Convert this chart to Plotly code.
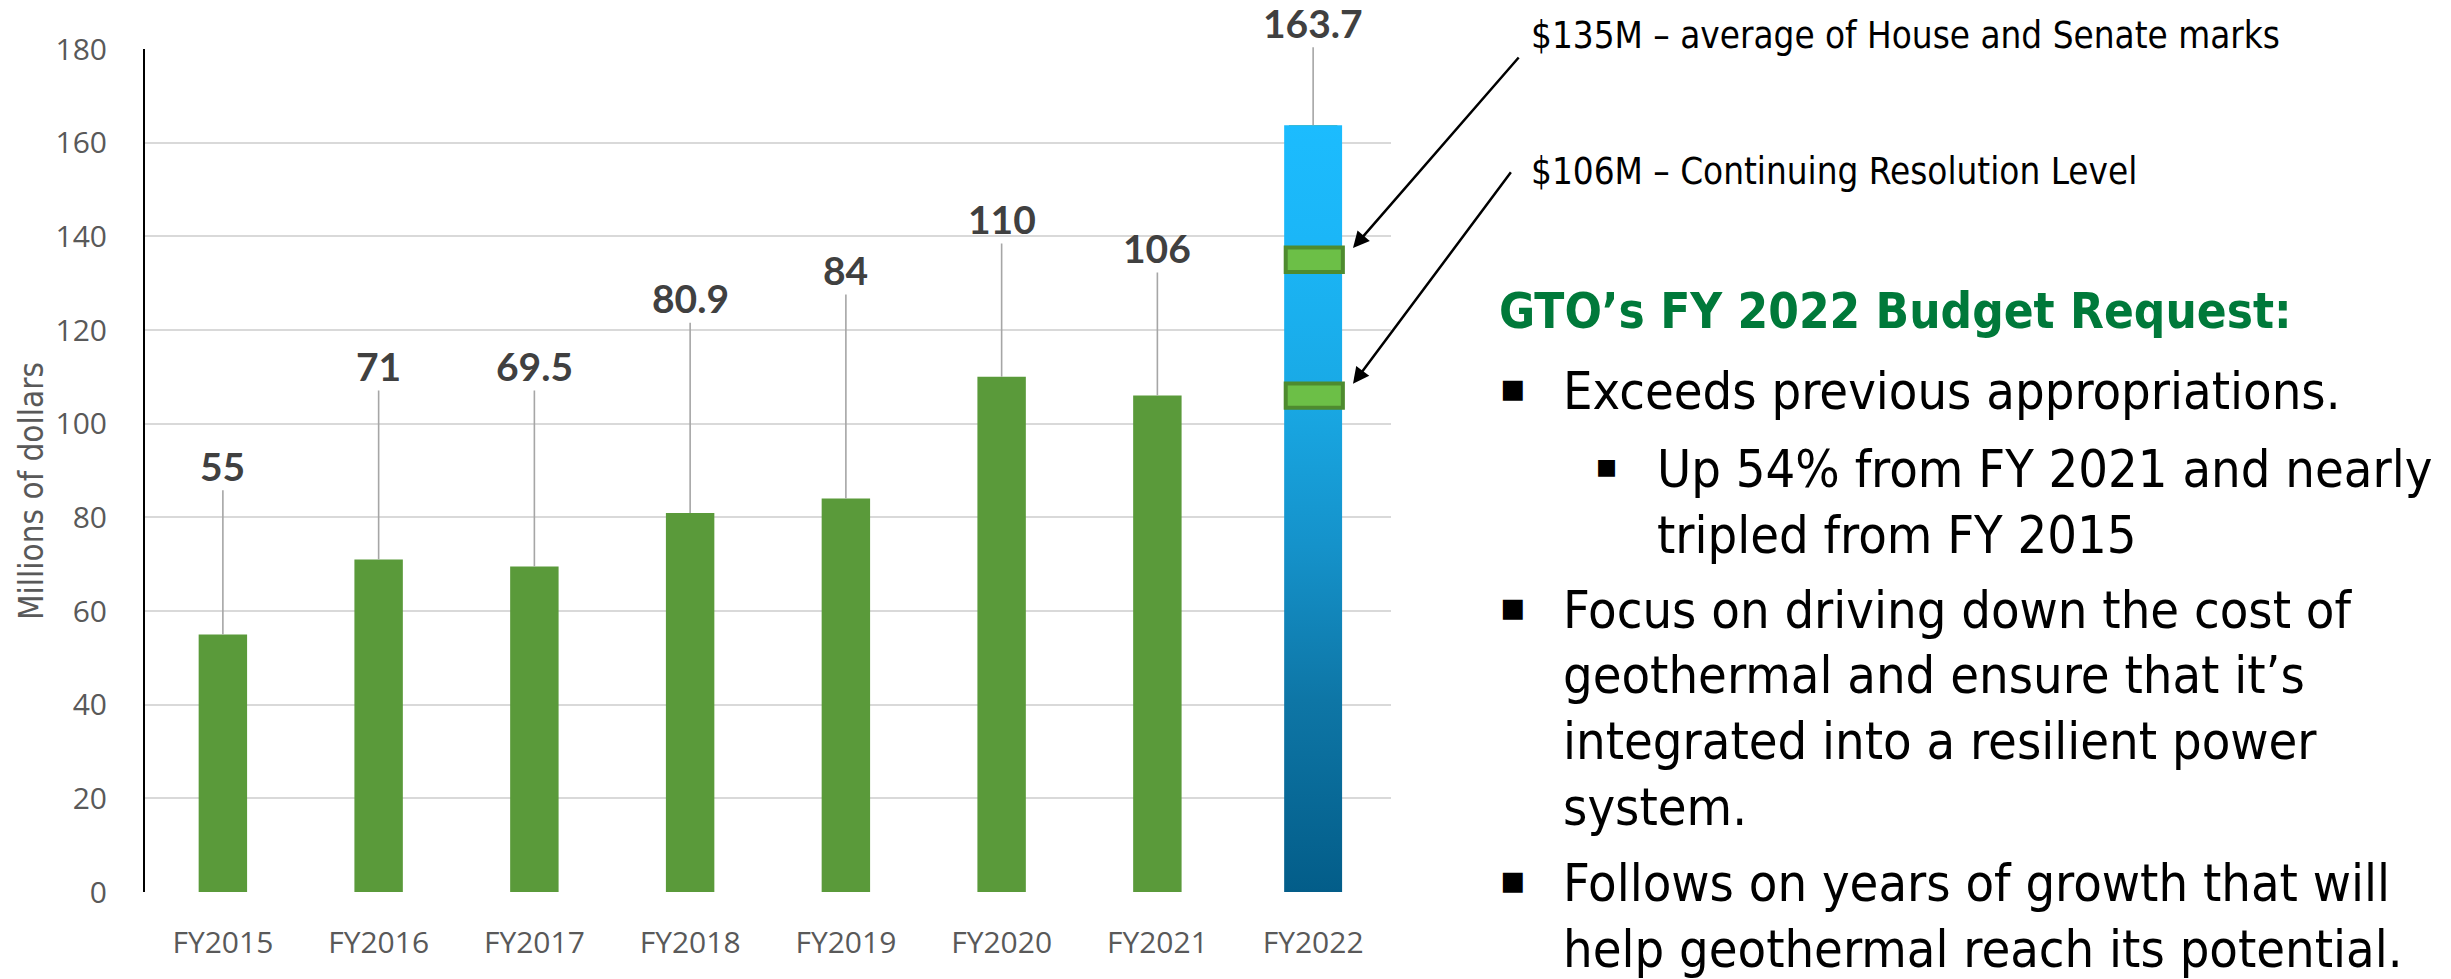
import plotly.graph_objects as go

# ---------------- data ----------------
categories = ["FY2015", "FY2016", "FY2017", "FY2018", "FY2019", "FY2020", "FY2021", "FY2022"]
values = [55, 71, 69.5, 80.9, 84, 110, 106, 163.7]
label_heights = [91.0, 112.3, 112.3, 126.8, 132.8, 143.7, 137.5, 185.6]

marker_values = [135, 106]
marker_texts = ["$135M – average of House and Senate marks",
                "$106M – Continuing Resolution Level"]

y_ticks = [0, 20, 40, 60, 80, 100, 120, 140, 160, 180]

header_text = "GTO’s FY 2022 Budget Request:"
panel_lines = [
    ("Exceeds previous appropriations.", 1),
    ("Up 54% from FY 2021 and nearly", 2),
    ("tripled from FY 2015", 3),
    ("Focus on driving down the cost of", 1),
    ("geothermal and ensure that it’s", 0),
    ("integrated into a resilient power", 0),
    ("system.", 0),
    ("Follows on years of growth that will", 1),
    ("help geothermal reach its potential.", 0),
]

# ---------------- layout constants ----------------
W, H = 2451, 979
L, R, T, B = 145, 1060, 49, 87
PW = W - L - R
PH = H - T - B

def pxx(p):
    return (p - L) / PW

def pyy(p):
    return (H - B - p) / PH

NARROW = "Liberation Sans Narrow, Arial Narrow, DejaVu Sans Condensed, sans-serif"
GREEN = "#5A9A3A"

bar_w = 0.311
grad_w = 0.372
last = len(categories) - 1
xs = list(range(len(categories)))

fig = go.Figure()

fig.add_trace(go.Bar(
    x=xs, y=values, width=bar_w,
    marker=dict(color=GREEN, line=dict(width=0)),
    hoverinfo="skip", showlegend=False,
))

# gradient bar for the FY2022 request
gx0, gx1 = xs[last] - grad_w / 2, xs[last] + grad_w / 2
fig.add_trace(go.Scatter(
    x=[gx0, gx1, gx1, gx0, gx0],
    y=[0, 0, values[last], values[last], 0],
    mode="lines", fill="toself",
    line=dict(width=0, color="rgba(0,0,0,0)"),
    fillgradient=dict(type="vertical", colorscale=[
        [0.0, "#035D89"], [0.25, "#0E76A6"], [0.45, "#1592CA"],
        [0.65, "#19A9E5"], [0.85, "#1BB6F7"], [1.0, "#1CBCFE"]]),
    hoverinfo="skip", showlegend=False,
))

annotations = []
# value labels with leader lines
for i, v in enumerate(values):
    annotations.append(dict(
        x=xs[i], y=v, xref="x", yref="y",
        ax=xs[i], ay=label_heights[i], axref="x", ayref="y",
        text=f"{v:g}", showarrow=True, arrowhead=0, arrowwidth=1.6,
        arrowcolor="#A6A6A6", standoff=0,
        font=dict(family="Lato, sans-serif", size=39, color="#404040", weight="bold"),
    ))

shapes = []
tails = [(167, -192), (159, -213)]
text_y = [35, 172]
for mv, (tx, ty), mt, yy in zip(marker_values, tails, marker_texts, text_y):
    shapes.append(dict(
        type="rect", xref="x", yref="y", layer="above",
        x0=gx0 + 0.01, x1=gx1 + 0.005, y0=mv - 2.6, y1=mv + 2.6,
        line=dict(color="#4E8B2F", width=4), fillcolor="#6CBF47",
    ))
    annotations.append(dict(
        x=gx1 + 0.07, y=mv + 2.5, xref="x", yref="y",
        ax=tx, ay=ty, text="", showarrow=True,
        arrowhead=2, arrowsize=1.3, arrowwidth=2.5, arrowcolor="#000000", standoff=0,
    ))
    annotations.append(dict(
        x=pxx(1529), y=pyy(yy), xref="paper", yref="paper",
        xanchor="left", yanchor="middle", showarrow=False, text=mt,
        font=dict(family=NARROW, size=36.5, color="#000000"),
    ))

# y axis title
annotations.append(dict(
    x=pxx(31), y=pyy(491), xref="paper", yref="paper",
    xanchor="center", yanchor="middle", showarrow=False, textangle=-90,
    text="Millions of dollars", font=dict(family=NARROW, size=33, color="#595959"),
))

# right text panel
annotations.append(dict(
    x=pxx(1497), y=pyy(311), xref="paper", yref="paper",
    xanchor="left", yanchor="middle", showarrow=False, text=f"<b>{header_text}</b>",
    font=dict(family=NARROW, size=49, color="#00793A"),
))
line_y = [391, 469, 535, 610, 675, 741, 807, 883, 949]
for (txt, lvl), yy in zip(panel_lines, line_y):
    tx = 1655 if lvl in (2, 3) else 1561
    if lvl == 1:
        annotations.append(dict(
            x=pxx(1512), y=pyy(yy - 4), xref="paper", yref="paper",
            xanchor="center", yanchor="middle", showarrow=False, text="▪",
            font=dict(family="DejaVu Sans", size=40, color="#000000"),
        ))
    if lvl == 2:
        annotations.append(dict(
            x=pxx(1606), y=pyy(yy - 4), xref="paper", yref="paper",
            xanchor="center", yanchor="middle", showarrow=False, text="▪",
            font=dict(family="DejaVu Sans", size=34, color="#000000"),
        ))
    annotations.append(dict(
        x=pxx(tx), y=pyy(yy), xref="paper", yref="paper",
        xanchor="left", yanchor="middle", showarrow=False, text=txt,
        font=dict(family=NARROW, size=52, color="#000000"),
    ))

fig.update_layout(
    width=W, height=H,
    margin=dict(l=L, r=R, t=T, b=B, pad=0),
    paper_bgcolor="white", plot_bgcolor="white",
    showlegend=False,
    annotations=annotations, shapes=shapes,
    xaxis=dict(
        range=[-0.5, len(categories) - 0.5],
        tickvals=xs, ticktext=categories,
        showgrid=False, zeroline=False, showline=False, ticks="",
        tickfont=dict(family="Open Sans, sans-serif", size=30, color="#595959"),
        ticklabelstandoff=30,
    ),
    yaxis=dict(
        range=[0, 180], tickvals=y_ticks,
        showgrid=True, gridcolor="#D9D9D9", gridwidth=1.8,
        zeroline=False, showline=True, linecolor="#000000", linewidth=2,
        ticks="",
        tickfont=dict(family="Open Sans, sans-serif", size=30, color="#595959"),
        ticklabelstandoff=30,
    ),
)

fig.write_html("out.html", config={"displayModeBar": False},
               post_script="document.body.style.margin='0';")
